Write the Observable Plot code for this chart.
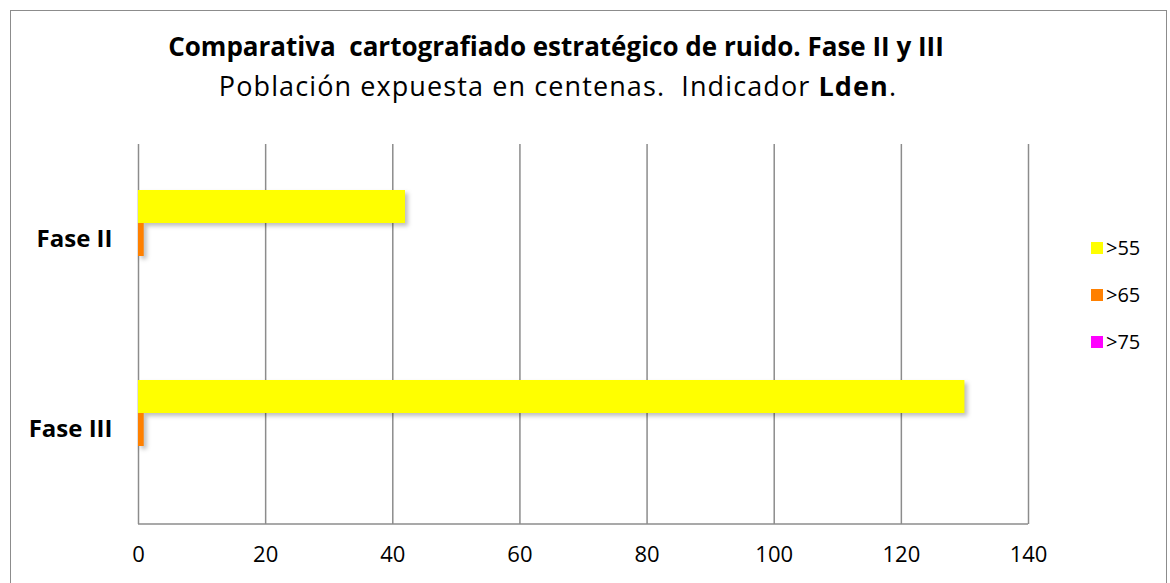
<!DOCTYPE html>
<html>
<head>
<meta charset="utf-8">
<script src="https://cdn.jsdelivr.net/npm/d3@7"></script>
<script src="https://cdn.jsdelivr.net/npm/@observablehq/plot@0.6"></script>
<style>
  html, body { margin: 0; padding: 0; background: #fff; }
  #wrap { position: relative; width: 1170px; height: 583px; overflow: hidden; font-family: "Open Sans", Lato, sans-serif; }
  #border { position: absolute; left: 10px; top: 10px; width: 1157px; height: 600px; border: 1px solid #8c8c8c; box-sizing: border-box; }
  #title { position: absolute; left: 0; width: 1112px; top: 28px; text-align: center; font-size: 26px; font-weight: bold; color: #000; line-height: 36px; }
  #subtitle { position: absolute; left: 0; width: 1116px; top: 68px; text-align: center; font-size: 27px; letter-spacing: 1.1px; color: #000; line-height: 36px; }
  #chart { position: absolute; left: 0; top: 0; }
  #legend { position: absolute; left: 1091px; top: 224px; font-size: 20px; }
  #legend .item { display: flex; align-items: center; height: 47px; }
  #legend .sw { width: 12px; height: 12px; margin-right: 3px; }
  .bars rect { filter: drop-shadow(3px 3px 2px rgba(0,0,0,0.25)); }
</style>
</head>
<body>
<div id="wrap">
  <div id="border"></div>
  <div id="chart"></div>
  <div id="title">Comparativa&nbsp; cartografiado estratégico de ruido. Fase II y III</div>
  <div id="subtitle">Población expuesta en centenas.&nbsp; Indicador <b>Lden</b>.</div>
  <div id="legend"></div>
</div>
<script>
const fases = ["Fase II", "Fase III"];
const series = [">55", ">65", ">75"];
const colors = ["#ffff00", "#ff8000", "#ff00ff"];
const faseII = [42, 0.9, 0];
const faseIII = [130, 0.9, 0];
const xTicks = [0, 20, 40, 60, 80, 100, 120, 140];

const data = [];
[faseII, faseIII].forEach((vals, i) => {
  vals.forEach((v, j) => data.push({ fase: fases[i], serie: series[j], value: v }));
});

const chart = Plot.plot({
  width: 1170,
  height: 583,
  marginTop: 143,
  marginBottom: 59,
  marginLeft: 138,
  marginRight: 142,
  style: { fontFamily: "'Open Sans', Lato, sans-serif", background: "transparent", overflow: "visible" },
  x: { domain: [0, 140], ticks: xTicks, label: null },
  y: { domain: series, paddingInner: 0, paddingOuter: 1.35, axis: null },
  fy: { domain: fases, padding: 0, label: null },
  color: { domain: series, range: colors },
  marks: [
    Plot.ruleX(xTicks, { stroke: "#8c8c8c", strokeWidth: 1.5 }),
    Plot.barX(data, { fy: "fase", y: "serie", x: "value", fill: "serie", className: "bars" }),
    Plot.axisX({ ticks: xTicks, tickSize: 0, tickPadding: 22, fontSize: 22, label: null, facetAnchor: "bottom" }),
    Plot.axisFy({ anchor: "left", tickSize: 0, tickPadding: 26, fontSize: 24, fontWeight: "bold", label: null })
  ]
});
document.getElementById("chart").appendChild(chart);

// bottom axis line
const svg = d3.select(chart);
svg.append("line")
  .attr("x1", 138).attr("x2", 1028)
  .attr("y1", 524).attr("y2", 524)
  .attr("stroke", "#8c8c8c").attr("stroke-width", 1.5);

const legend = document.getElementById("legend");
series.forEach((s, i) => {
  const item = document.createElement("div");
  item.className = "item";
  item.innerHTML = `<span class="sw" style="background:${colors[i]}"></span><span>${s}</span>`;
  legend.appendChild(item);
});
</script>
</body>
</html>
